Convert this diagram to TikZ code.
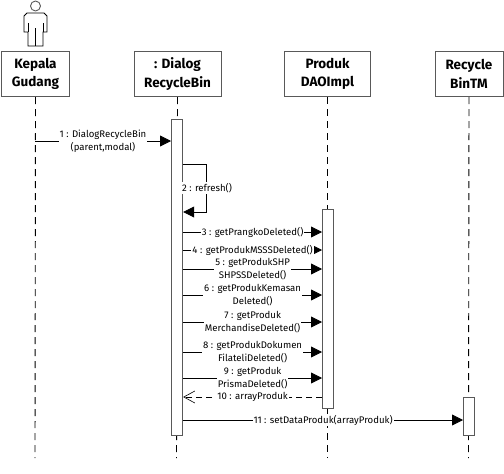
\documentclass[tikz,border=0pt]{standalone}
\usepackage{fontspec}
\setmainfont{Fira Sans}
\usetikzlibrary{arrows.meta,calc}
\definecolor{edge}{HTML}{595959}
\tikzset{
  objbox/.style={draw=edge,line width=1pt,fill=white,align=center,anchor=north west,inner sep=0pt,font=\fontsize{13.5}{18.5}\selectfont\bfseries},
  lifeline/.style={draw=black,line width=.9pt,dash pattern=on 7pt off 5pt},
  actbar/.style={draw=edge,line width=1.2pt,fill=white,inner sep=0pt,anchor=north west},
  msg/.style={draw=black,line width=.8pt,-{Triangle[length=11pt,width=11pt]}},
  retmsg/.style={draw=black,line width=.8pt,dashed,dash pattern=on 6pt off 4pt,-{Straight Barb[length=11pt,width=12pt,line width=.6pt]}},
  lbl/.style={fill=white,inner sep=1pt,align=center,font=\fontsize{9.6}{13}\selectfont,text=black}
}
\begin{document}
\begin{tikzpicture}[x=1pt,y=-1pt]
\useasboundingbox (0,0) rectangle (504,474);
% actor
\draw[edge,line width=.9pt,fill=white] (35.5,6) circle (5);
\draw[black,line width=.9pt] (27,13) -- (44,13) -- (47,16) -- (47,32) -- (43,32) -- (43,46) -- (28,46) -- (28,32) -- (24,32) -- (24,16) -- cycle;
\draw[black,line width=.8pt] (28,23) -- (28,32) (43,23) -- (43,32) (35.5,28) -- (35.5,46);
% objects
\node[objbox,minimum width=68pt,minimum height=45pt] (kg) at (1,51) {Kepala\\Gudang};
\node[objbox,minimum width=87pt,minimum height=45pt] (dr) at (133.5,51) {: Dialog\\RecycleBin};
\node[objbox,minimum width=86pt,minimum height=45pt] (pd) at (284,51) {Produk\\DAOImpl};
\node[objbox,minimum width=68pt,minimum height=45pt] (rb) at (434.5,51) {Recycle\\BinTM};
% lifeline ends
\coordinate (kgend) at (35,458);
\coordinate (drend) at (176.5,458);
\coordinate (pdend) at (327.5,458);
\coordinate (rbend) at (468.5,458);
\draw[lifeline] (kg.south) -- (kgend);
\draw[lifeline] (dr.south) -- (drend);
\draw[lifeline] (pd.south) -- (pdend);
\draw[lifeline] (rb.south) -- (rbend);
% activations
\node[actbar,minimum width=11pt,minimum height=316pt] (a1) at (171,119) {};
\node[actbar,minimum width=11pt,minimum height=199pt] (a2) at (322,209) {};
\node[actbar,minimum width=11pt,minimum height=38pt] (a3) at (463,397) {};
% messages
\coordinate (start1) at (35,141);
\draw[msg] (start1) -- node[lbl] {1 : DialogRecycleBin\\(parent,modal)} (a1.west |- start1);
\coordinate (s2a) at (206,164);
\coordinate (s2b) at (206,212);
\draw[msg] (a1.east |- s2a) -- (s2a) -- node[lbl,xshift=1pt] {2 : refresh()} (s2b) -- (a1.east |- s2b);
\draw[msg] (a1.east |- 0,232) -- node[lbl] {3 : getPrangkoDeleted()} (a2.west |- 0,232);
\draw[msg] (a1.east |- 0,250) -- node[lbl] {4 : getProdukMSSSDeleted()} (a2.west |- 0,250);
\draw[msg] (a1.east |- 0,269) -- node[lbl] {5 : getProdukSHP\\SHPSSDeleted()} (a2.west |- 0,269);
\draw[msg] (a1.east |- 0,295) -- node[lbl] {6 : getProdukKemasan\\Deleted()} (a2.west |- 0,295);
\draw[msg] (a1.east |- 0,322) -- node[lbl] {7 : getProduk\\MerchandiseDeleted()} (a2.west |- 0,322);
\draw[msg] (a1.east |- 0,352) -- node[lbl] {8 : getProdukDokumen\\FilateliDeleted()} (a2.west |- 0,352);
\draw[msg] (a1.east |- 0,378) -- node[lbl] {9 : getProduk\\PrismaDeleted()} (a2.west |- 0,378);
\draw[retmsg] (a2.west |- 0,397) -- node[lbl] {10 : arrayProduk} (a1.east |- 0,397);
\draw[msg] (a1.east |- 0,420) -- node[lbl] {11 : setDataProduk(arrayProduk)} (a3.west |- 0,420);
\end{tikzpicture}
\end{document}
